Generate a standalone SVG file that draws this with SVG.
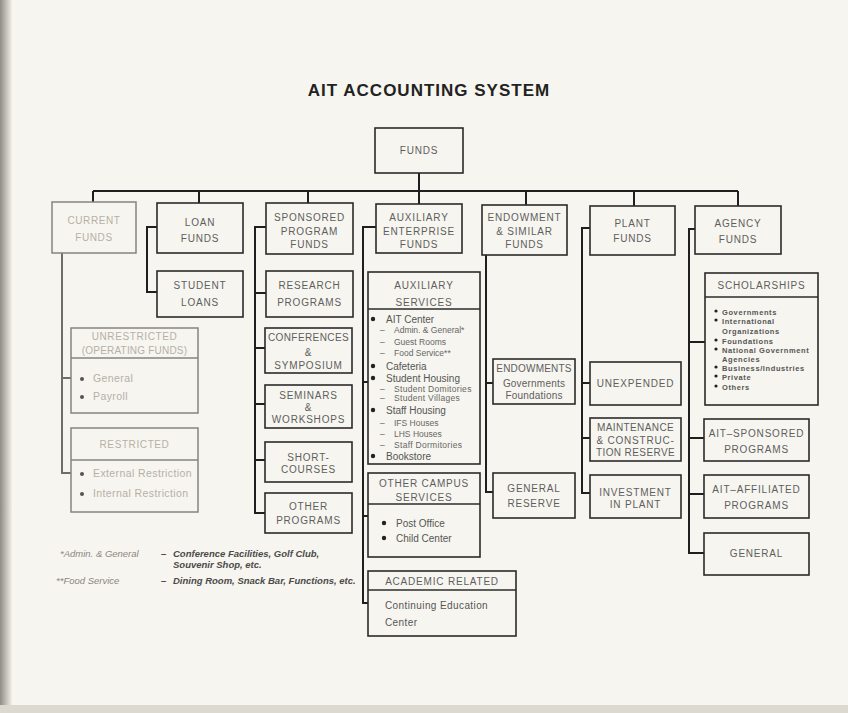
<svg xmlns="http://www.w3.org/2000/svg" width="848" height="713" viewBox="0 0 848 713">
<defs>
<linearGradient id="edge" x1="0" y1="0" x2="1" y2="0">
<stop offset="0" stop-color="#8f8c86"/>
<stop offset="1" stop-color="#f2f0e8"/>
</linearGradient>
<style>
.b{fill:none;stroke:#2b2b2b;stroke-width:1.6}
.bf{fill:none;stroke:#858480;stroke-width:1.5}
.c{fill:none;stroke:#1f1f1f;stroke-width:2}
.cf{fill:none;stroke:#6f6e6a;stroke-width:2}
.t{font-family:"Liberation Sans",Arial,sans-serif;font-size:10px;fill:#5e5e5e;text-anchor:middle;letter-spacing:0.8px}
.tf{font-family:"Liberation Sans",Arial,sans-serif;font-size:10px;fill:#b5b0a7;text-anchor:middle;letter-spacing:0.6px}
.lf{font-family:"Liberation Sans",Arial,sans-serif;font-size:10.5px;fill:#b5b0a7;letter-spacing:0.4px}
.l{font-family:"Liberation Sans",Arial,sans-serif;font-size:10px;fill:#555}
.ls{font-family:"Liberation Sans",Arial,sans-serif;font-size:8.5px;fill:#666}
.sc{font-family:"Liberation Sans",Arial,sans-serif;font-size:7.5px;font-weight:bold;fill:#555;letter-spacing:0.6px}
.fn{font-family:"Liberation Sans",Arial,sans-serif;font-size:9.5px;font-style:italic;font-weight:bold;fill:#4a4a4a}
.fnl{font-family:"Liberation Sans",Arial,sans-serif;font-size:9.5px;font-style:italic;fill:#8a8780}
.dot{fill:#222}
.dotf{fill:#555}
.title{font-family:"Liberation Sans",Arial,sans-serif;font-size:17px;font-weight:bold;fill:#222;text-anchor:middle;letter-spacing:1px}
</style>
</defs>
<rect x="0" y="0" width="848" height="713" fill="#f7f5ef"/>
<rect x="0" y="0" width="12" height="713" fill="url(#edge)"/>
<rect x="0" y="705" width="848" height="8" fill="#dcd9d0"/>

<text class="title" x="429" y="96">AIT ACCOUNTING SYSTEM</text>

<g id="connectors">
<path class="c" d="M419,173 V191 M93,191 H738 M93,191 V202 M199,191 V203 M308,191 V203 M419,191 V204 M526,191 V205 M634,191 V206 M738,191 V206"/>
<path class="cf" d="M62,253 V473 H71 M62,378 H71"/>
<path class="c" d="M157,227 H147 V292 H157"/>
<path class="c" d="M266,227 H255 V513 H265 M255,293 H266 M255,348 H265 M255,404 H265 M255,460 H265"/>
<path class="c" d="M376,227 H363 V603 H368 M363,382 H368 M363,516 H368"/>
<path class="c" d="M486,255 V492 H493 M486,383 H493"/>
<path class="c" d="M590,228 H582 V493 H590 M582,383 H590 M582,438 H590"/>
<path class="c" d="M695,229 H689 V553 H704 M689,342 H705 M689,438 H704 M689,494 H704"/>
</g>

<g id="funds">
<rect class="b" x="375" y="128" width="88" height="45"/>
<text class="t" x="419" y="154">FUNDS</text>
</g>

<g id="current-funds">
<rect class="bf" x="52" y="202" width="84" height="51"/>
<text class="tf" x="94" y="224">CURRENT</text>
<text class="tf" x="94" y="241">FUNDS</text>
</g>
<g id="unrestricted">
<rect class="bf" x="71" y="328" width="127" height="85"/>
<line class="bf" x1="71" y1="358" x2="198" y2="358"/>
<text class="tf" x="134.5" y="340">UNRESTRICTED</text>
<text class="tf" x="134.5" y="354" style="letter-spacing:0.2px">(OPERATING FUNDS)</text>
<circle class="dotf" cx="82" cy="379" r="2"/>
<text class="lf" x="93" y="382">General</text>
<circle class="dotf" cx="82" cy="397" r="2"/>
<text class="lf" x="93" y="400">Payroll</text>
</g>
<g id="restricted">
<rect class="bf" x="71" y="428" width="127" height="84"/>
<line class="bf" x1="71" y1="460" x2="198" y2="460"/>
<text class="tf" x="134.5" y="448">RESTRICTED</text>
<circle class="dotf" cx="82" cy="474" r="2"/>
<text class="lf" x="93" y="477">External Restriction</text>
<circle class="dotf" cx="82" cy="494" r="2"/>
<text class="lf" x="93" y="497">Internal Restriction</text>
</g>

<g id="loan-funds">
<rect class="b" x="157" y="203" width="86" height="50"/>
<text class="t" x="200" y="226">LOAN</text>
<text class="t" x="200" y="242">FUNDS</text>
</g>
<g id="student-loans">
<rect class="b" x="157" y="271" width="86" height="46"/>
<text class="t" x="200" y="289">STUDENT</text>
<text class="t" x="200" y="306">LOANS</text>
</g>

<g id="sponsored">
<rect class="b" x="266" y="203" width="87" height="51"/>
<text class="t" x="309.5" y="221">SPONSORED</text>
<text class="t" x="309.5" y="235">PROGRAM</text>
<text class="t" x="309.5" y="248">FUNDS</text>
</g>
<g id="research">
<rect class="b" x="266" y="271" width="87" height="46"/>
<text class="t" x="309.5" y="289">RESEARCH</text>
<text class="t" x="309.5" y="306">PROGRAMS</text>
</g>
<g id="conferences">
<rect class="b" x="265" y="328" width="87" height="45"/>
<text class="t" x="308.5" y="341" style="letter-spacing:0.4px">CONFERENCES</text>
<text class="t" x="308.5" y="356">&amp;</text>
<text class="t" x="308.5" y="369">SYMPOSIUM</text>
</g>
<g id="seminars">
<rect class="b" x="265" y="385" width="87" height="43"/>
<text class="t" x="308.5" y="399">SEMINARS</text>
<text class="t" x="308.5" y="411">&amp;</text>
<text class="t" x="308.5" y="423">WORKSHOPS</text>
</g>
<g id="short-courses">
<rect class="b" x="265" y="442" width="87" height="40"/>
<text class="t" x="308.5" y="461">SHORT-</text>
<text class="t" x="308.5" y="473">COURSES</text>
</g>
<g id="other-programs">
<rect class="b" x="265" y="493" width="87" height="40"/>
<text class="t" x="308.5" y="510">OTHER</text>
<text class="t" x="308.5" y="524">PROGRAMS</text>
</g>

<g id="auxiliary-enterprise">
<rect class="b" x="376" y="204" width="86" height="49"/>
<text class="t" x="419" y="221">AUXILIARY</text>
<text class="t" x="419" y="235">ENTERPRISE</text>
<text class="t" x="419" y="248">FUNDS</text>
</g>
<g id="auxiliary-services">
<rect class="b" x="368" y="272" width="112" height="192"/>
<line class="b" x1="368" y1="309" x2="480" y2="309"/>
<text class="t" x="424" y="289">AUXILIARY</text>
<text class="t" x="424" y="306">SERVICES</text>
<circle class="dot" cx="373" cy="319" r="2.2"/>
<text class="l" x="386" y="322.5">AIT Center</text>
<text class="ls" x="380" y="333">–</text><text class="ls" x="394" y="333">Admin. &amp; General*</text>
<text class="ls" x="380" y="345">–</text><text class="ls" x="394" y="345">Guest Rooms</text>
<text class="ls" x="380" y="356">–</text><text class="ls" x="394" y="356">Food Service**</text>
<circle class="dot" cx="373" cy="366" r="2.2"/>
<text class="l" x="386" y="369.5">Cafeteria</text>
<circle class="dot" cx="373" cy="378" r="2.2"/>
<text class="l" x="386" y="381.5">Student Housing</text>
<text class="ls" x="380" y="392">–</text><text class="ls" x="394" y="392" style="letter-spacing:0.3px">Student Domitories</text>
<text class="ls" x="380" y="401">–</text><text class="ls" x="394" y="401" style="letter-spacing:0.3px">Student Villages</text>
<circle class="dot" cx="373" cy="410" r="2.2"/>
<text class="l" x="386" y="413.5">Staff Housing</text>
<text class="ls" x="380" y="426">–</text><text class="ls" x="394" y="426">IFS Houses</text>
<text class="ls" x="380" y="437">–</text><text class="ls" x="394" y="437">LHS Houses</text>
<text class="ls" x="380" y="448">–</text><text class="ls" x="394" y="448" style="letter-spacing:0.3px">Staff Dormitories</text>
<circle class="dot" cx="373" cy="456" r="2.2"/>
<text class="l" x="386" y="459.5">Bookstore</text>
</g>
<g id="other-campus-services">
<rect class="b" x="368" y="473" width="112" height="84"/>
<line class="b" x1="368" y1="504" x2="480" y2="504"/>
<text class="t" x="424" y="487">OTHER CAMPUS</text>
<text class="t" x="424" y="501">SERVICES</text>
<circle class="dot" cx="384" cy="523" r="2.2"/>
<text class="l" x="396" y="527">Post Office</text>
<circle class="dot" cx="384" cy="538" r="2.2"/>
<text class="l" x="396" y="542">Child Center</text>
</g>
<g id="academic-related">
<rect class="b" x="368" y="571" width="148" height="65"/>
<line class="b" x1="368" y1="590" x2="516" y2="590"/>
<text class="t" x="442" y="585">ACADEMIC RELATED</text>
<text class="l" x="385" y="609" style="letter-spacing:0.4px">Continuing Education</text>
<text class="l" x="385" y="626" style="letter-spacing:0.4px">Center</text>
</g>

<g id="endowment">
<rect class="b" x="482" y="205" width="85" height="50"/>
<text class="t" x="524.5" y="221">ENDOWMENT</text>
<text class="t" x="524.5" y="235">&amp; SIMILAR</text>
<text class="t" x="524.5" y="248">FUNDS</text>
</g>
<g id="endowments">
<rect class="b" x="493" y="359" width="82" height="45"/>
<text class="t" x="534" y="372" style="letter-spacing:0.2px">ENDOWMENTS</text>
<text class="t" x="534" y="387" style="letter-spacing:0.2px">Governments</text>
<text class="t" x="534" y="399" style="letter-spacing:0.2px">Foundations</text>
</g>
<g id="general-reserve">
<rect class="b" x="493" y="473" width="82" height="45"/>
<text class="t" x="534" y="492">GENERAL</text>
<text class="t" x="534" y="507">RESERVE</text>
</g>

<g id="plant">
<rect class="b" x="590" y="206" width="85" height="49"/>
<text class="t" x="632.5" y="227">PLANT</text>
<text class="t" x="632.5" y="242">FUNDS</text>
</g>
<g id="unexpended">
<rect class="b" x="590" y="362" width="91" height="43"/>
<text class="t" x="635.5" y="387">UNEXPENDED</text>
</g>
<g id="maintenance">
<rect class="b" x="590" y="418" width="91" height="43"/>
<text class="t" x="635.5" y="431" style="letter-spacing:0.4px">MAINTENANCE</text>
<text class="t" x="635.5" y="444">&amp; CONSTRUC-</text>
<text class="t" x="635.5" y="456" style="letter-spacing:0.4px">TION RESERVE</text>
</g>
<g id="investment">
<rect class="b" x="590" y="475" width="91" height="43"/>
<text class="t" x="635.5" y="496">INVESTMENT</text>
<text class="t" x="635.5" y="508">IN PLANT</text>
</g>

<g id="agency">
<rect class="b" x="695" y="206" width="86" height="48"/>
<text class="t" x="738" y="227">AGENCY</text>
<text class="t" x="738" y="243">FUNDS</text>
</g>
<g id="scholarships">
<rect class="b" x="705" y="273" width="113" height="132"/>
<line class="b" x1="705" y1="297" x2="818" y2="297"/>
<text class="t" x="761.5" y="289">SCHOLARSHIPS</text>
<circle class="dot" cx="716" cy="311" r="1.6"/><text class="sc" x="722" y="314.5">Governments</text>
<circle class="dot" cx="716" cy="320" r="1.6"/><text class="sc" x="722" y="323.5">International</text>
<text class="sc" x="722" y="333.5">Organizations</text>
<circle class="dot" cx="716" cy="340" r="1.6"/><text class="sc" x="722" y="343.5">Foundations</text>
<circle class="dot" cx="716" cy="349" r="1.6"/><text class="sc" x="722" y="352.5">National Government</text>
<text class="sc" x="722" y="361.5">Agencies</text>
<circle class="dot" cx="716" cy="367" r="1.6"/><text class="sc" x="722" y="370.5">Business/Industries</text>
<circle class="dot" cx="716" cy="376" r="1.6"/><text class="sc" x="722" y="379.5">Private</text>
<circle class="dot" cx="716" cy="386" r="1.6"/><text class="sc" x="722" y="389.5">Others</text>
</g>
<g id="ait-sponsored">
<rect class="b" x="704" y="419" width="105" height="42"/>
<text class="t" x="756.5" y="437">AIT–SPONSORED</text>
<text class="t" x="756.5" y="453">PROGRAMS</text>
</g>
<g id="ait-affiliated">
<rect class="b" x="704" y="475" width="105" height="43"/>
<text class="t" x="756.5" y="493">AIT–AFFILIATED</text>
<text class="t" x="756.5" y="509">PROGRAMS</text>
</g>
<g id="general">
<rect class="b" x="704" y="533" width="105" height="42"/>
<text class="t" x="756.5" y="557">GENERAL</text>
</g>

<g id="footnotes">
<text class="fnl" x="60" y="557">*Admin. &amp; General</text>
<text class="fn" x="161" y="557">–</text>
<text class="fn" x="173" y="557">Conference Facilities, Golf Club,</text>
<text class="fn" x="173" y="568">Souvenir Shop, etc.</text>
<text class="fnl" x="56" y="584">**Food Service</text>
<text class="fn" x="161" y="584">–</text>
<text class="fn" x="173" y="584">Dining Room, Snack Bar, Functions, etc.</text>
</g>
</svg>
